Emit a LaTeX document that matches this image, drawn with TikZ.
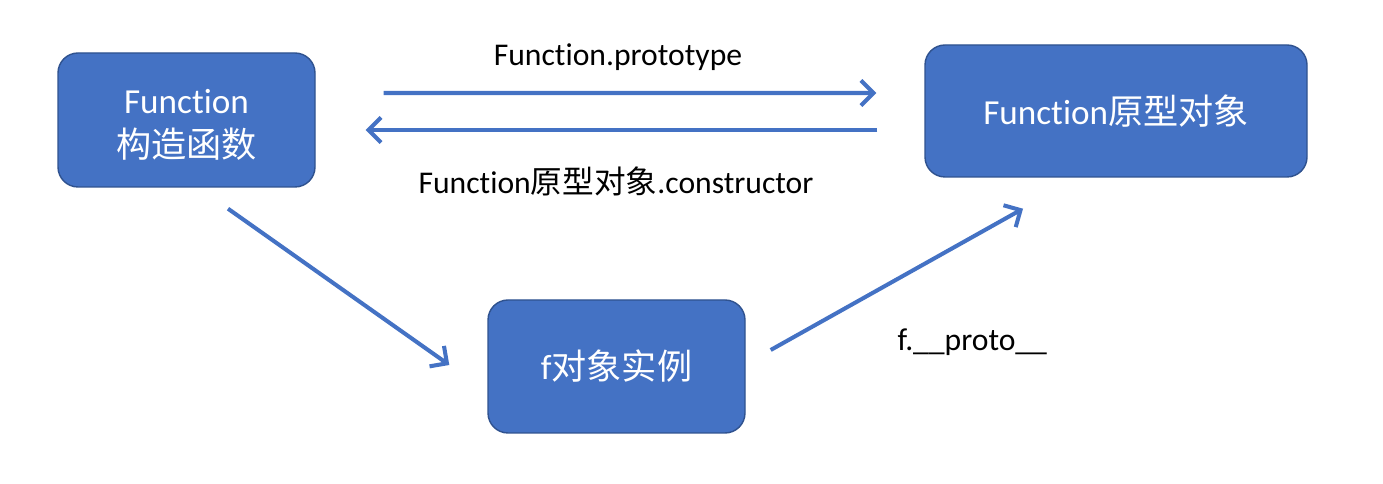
\documentclass[tikz,border=0pt]{standalone}
\usepackage{tikz}
\usepackage{fontspec}
\setmainfont{Carlito}[Ligatures=NoCommon]
\newfontfamily\cjk{Noto Sans CJK SC}
\usetikzlibrary{arrows.meta}
\definecolor{boxblue}{HTML}{4472C4}
\definecolor{boxline}{HTML}{2F528F}
\tikzstyle{edge} = [draw,boxblue,line width=2.3pt,-{Straight Barb[length=0.25cm,width=0.5cm]}]

\begin{document}
\begin{tikzpicture}[main node/.style={rectangle,rounded corners=0.4cm,fill=boxblue,draw=boxline,
    line width=0.8pt,text=white,align=center,inner sep=0pt,
    font=\fontsize{20}{24}\selectfont},
  label node/.style={text=black,inner sep=0pt,font=\fontsize{18}{22}\selectfont}]
  \useasboundingbox (0,0) rectangle (27.66,9.68);

  \node[main node,minimum width=5.14cm,minimum height=2.68cm] (1) at (3.73,7.28) {\raisebox{0pt}[\dimexpr\height+0.2cm\relax]{\shortstack{Function\\[5pt]{\cjk 构造函数}}}};
  \node[main node,minimum width=7.64cm,minimum height=2.64cm] (2) at (22.32,7.46) {Function{\cjk 原型对象}};
  \node[main node,minimum width=5.14cm,minimum height=2.66cm] (3) at (12.33,2.35) {f{\cjk 对象实例}};

  \path[edge] ([xshift=1.36cm,yshift=0.54cm]1.east) -- ([xshift=-0.96cm,yshift=0.36cm]2.west)
    node[label node,midway,xshift=-0.24cm,yshift=0.72cm] {Function.prototype};
  \path[edge] ([xshift=-0.94cm,yshift=-0.38cm]2.west) -- ([xshift=1.00cm,yshift=-0.20cm]1.east)
    node[label node,midway,xshift=-0.11cm,yshift=-1.02cm] {Function{\cjk 原型对象}.constructor};
  \path[edge] ([xshift=0.83cm,yshift=-0.42cm]1.south) -- ([xshift=-0.76cm,yshift=0.03cm]3.west);
  \path[edge] ([xshift=0.50cm,yshift=0.33cm]3.east) -- ([xshift=-1.86cm,yshift=-0.62cm]2.south)
    node[label node,midway,xshift=1.51cm,yshift=-1.26cm] {f.\_\_proto\_\_};

\end{tikzpicture}
\end{document}
